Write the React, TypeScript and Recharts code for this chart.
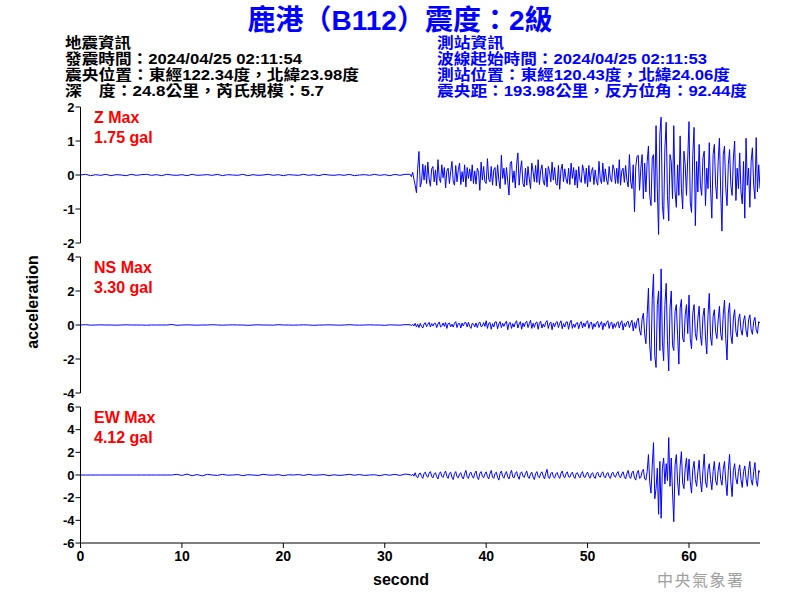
import { LineChart, Line, XAxis, YAxis } from 'recharts'

const QUIET_STEP = 0.5
const ACTIVE_START = 32.5
const ACTIVE_STEP = 0.125
const X_MAX = 67

// trace values, in 0.01 gal
// quiet part: t = 0 .. 32 s, every 0.5 s
const zQuiet = [
  0, 2, -2, 1, -1, 2, -2, 1, 0, -2, 2, -1, 1, 2, -1, 1, -2, 2, 0, -1,
  1, -2, 2, -1, 0, 1, -1, 2, -2, 1, 0, -1, 2, -2, 1, -1, 0, 2, -1, 1,
  -2, 1, 0, -1, 2, -1, 1, -2, 2, 0, -1, 1, -1, 2, -2, 0, 1, -1, 2, -1,
  1, -2, 2, -1, 2,
]
const nsQuiet = [
  0, 2, -1, 0, 1, 0, 0, -1, 0, 1, 0, 0, 0, -1, 0, 0, 0, 0, 3, -2,
  0, 1, 0, -1, 0, 0, 2, 0, -1, 0, 1, 0, 0, -2, 0, 1, 0, 0, -1, 2,
  0, 0, -1, 0, 1, 0, -2, 0, 0, 1, 0, -1, 0, 2, 0, -1, 0, 1, 0, 0,
  -2, 1, 0, -1, 2,
]
const ewQuiet = [
  0, 0, 0, 0, 0, 0, 0, 0, 0, 0, 0, 0, 0, 0, 0, 0, 0, 0, 0, 6,
  -4, 8, -6, 4, -8, 6, 0, -4, 6, -2, 0, 4, -6, 2, 0, -4, 6, 0, -2, 4,
  -6, 2, 0, 4, -4, 6, -2, 0, 4, -6, 2, -4, 0, 6, -2, 4, -4, 0, 2, -6,
  4, -2, 6, -4, 8,
]

// active part: t = 32.5 .. 67 s, every 0.125 s (one row per second)
const zActive = [
  2, -5, 8, -12,
  -30, -52, 20, 69, -35, -20, 32, -15, // 33
  28, -25, 38, -12, -33, 18, 25, -20,
  15, -30, 45, -10, -22, 30, -8, 22, // 35
  -38, 12, 20, -25, 10, 40, -18, -30,
  28, -20, 15, 35, -28, 10, -20, 30,
  -35, 22, -10, 18, -18, 30, -25, 12,
  -27, 20, 8, -45, 38, -15, 25, -20,
  -25, 48, -12, -20, 25, -30, 15, 22, // 40
  -32, 30, -15, -40, 58, -10, 20, -28,
  22, -18, -59, 35, 40, -22, 12, -38,
  30, 65, -30, 15, 42, -25, -35, 20,
  -30, 25, -12, -40, 35, 10, -20, 28,
  -22, 45, -28, 12, 30, -18, -30, 20, // 45
  -35, 25, 10, -20, 38, -15, 22, -25,
  -30, 28, -42, 15, 32, -20, 18, -12,
  -25, 20, -28, 35, -10, 22, -30, 15,
  -38, 25, -15, -22, 30, 12, -25, 20,
  -35, 28, -20, 10, 22, -28, 15, -18, // 50
  -30, 40, -12, -25, 35, -20, 18, -15,
  -28, 25, -10, -20, 30, 15, -25, 20,
  -25, 45, -30, 12, 20, -22, 28, -15,
  -35, 60, -20, -40, 30, -108, 25, 55,
  58, -45, 20, 60, -70, 35, -50, 40, // 55
  85, -60, -90, 50, 60, -80, 145, -40,
  -175, 120, 170, -90, -130, 80, 155, -60,
  -135, 60, 40, -70, 145, -50, -95, 30,
  -60, 115, -40, -100, 70, 30, -60, 50,
  157, -80, -110, 60, 140, -149, 40, -50, // 60
  90, -30, -60, 50, 70, -90, 20, -40,
  95, -40, -127, 60, 90, -30, -70, 40,
  108, -50, -165, 60, 85, -40, -90, 30,
  75, -30, -60, 50, 100, -75, 20, -40,
  65, -50, -85, 40, -127, 108, -30, 20, // 65
  -95, 40, 80, -30, -70, 110, -50, 30,
  -40,
]
const nsActive = [
  2, -4, 5, -6,
  10, -12, 5, -15, 10, -8, -18, 6, // 33
  14, -10, 4, 16, -12, 8, -6, 10,
  10, -15, 6, 18, -12, -5, 12, -8, // 35
  15, -20, 8, 12, -10, 5, -12, 10,
  20, -15, 8, 10, -18, 12, -6, 14,
  14, -12, 16, -8, -20, 10, 6, -12,
  12, -15, 8, 18, -10, -6, 14, -8,
  25, -20, 10, 15, -25, 8, -12, 18, // 40
  18, -22, 6, 20, -15, 10, -8, 12,
  22, -28, 10, 15, -20, 8, -12, 14,
  25, -18, 6, 20, -25, 12, -10, 15,
  22, -15, 8, 28, -20, 10, -14, 12,
  18, -25, 10, 22, -18, 6, -12, 16, // 45
  26, -20, 8, 18, -28, 12, -10, 14,
  20, -15, 10, 25, -22, 8, -12, 18,
  18, -25, 12, 28, -20, 6, -14, 10,
  15, -22, 8, 20, -18, 12, -10, 16,
  25, -20, 10, 18, -25, 8, -12, 14, // 50
  22, -15, 6, 20, -28, 12, -8, 16,
  25, -20, 10, 18, -22, 8, -14, 12,
  20, -18, 12, 25, -30, 10, -10, 16,
  22, -15, 10, 28, -35, 15, -20, 25,
  40, -30, -60, 35, 70, -50, -110, 60, // 55
  216, -120, -210, 150, 300, -180, -250, 120,
  200, -150, 330, -100, -210, 120, 245, -90,
  -270, 100, 200, -120, -150, 80, 120, -60,
  -230, 100, 150, -80, -100, 60, 120, -50,
  176, -80, -140, 70, 120, -50, -90, 40, // 60
  110, -60, -120, 50, 100, -70, -170, 60,
  186, -70, -120, 50, 90, -40, -80, 30,
  110, -50, -90, 60, 147, -80, -206, 70,
  130, -60, -110, 40, 90, -40, -70, 30,
  65, -30, -60, 25, 55, -35, -70, 30, // 65
  60, -25, -55, 20, 45, -30, -50, 20,
  10,
]
const ewActive = [
  3, -6, 8, -10,
  20, -15, -25, 10, 18, -12, -30, 15, // 33
  25, -10, -20, 15, 30, -12, -25, 10,
  20, -15, -35, 12, 28, -10, -22, 14, // 35
  35, -12, -30, 15, 25, -20, -40, 12,
  30, -15, -25, 10, 20, -18, -35, 12,
  40, -15, -30, 12, 25, -10, -28, 14,
  35, -20, -40, 15, 30, -12, -25, 10,
  28, -15, -35, 12, 40, -18, -30, 14, // 40
  25, -20, -45, 15, 35, -12, -28, 10,
  30, -15, -35, 12, 42, -18, -25, 14,
  30, -12, -38, 15, 28, -10, -22, 12,
  35, -15, -30, 10, 25, -18, -40, 12,
  30, -12, -25, 14, 28, -10, -35, 15, // 45
  50, -20, -30, 12, 25, -15, -28, 10,
  22, -12, -30, 15, 35, -10, -25, 12,
  28, -15, -20, 10, 25, -12, -30, 14,
  20, -10, -25, 12, 30, -15, -22, 10,
  25, -12, -28, 10, 20, -15, -30, 12, // 50
  25, -10, -20, 14, 28, -12, -25, 10,
  22, -15, -30, 12, 25, -10, -20, 14,
  30, -12, -25, 10, 28, -15, -35, 12,
  40, -15, -30, 20, 35, -25, -45, 18,
  40, -30, -20, 30, 50, -35, -45, 30, // 55
  180, -60, -160, 80, 285, -210, -120, 60,
  -347, 120, -382, 60, 150, -80, 100, -50,
  330, -100, 150, -150, -412, 90, 180, -60,
  -180, 80, 206, -70, -120, 60, 150, -50,
  140, -60, -160, 50, 120, -40, -100, 30, // 60
  130, -50, -150, 40, 185, -60, -110, 50,
  100, -40, -130, 30, 120, -50, -90, 40,
  110, -40, -90, 50, 120, -60, -182, 40,
  182, -60, -190, 40, 100, -30, -80, 30,
  90, -40, -110, 30, 80, -30, -100, 40, // 65
  120, -40, -90, 30, 110, -50, -100, 40,
  20,
]

const xTicks = [0, 10, 20, 30, 40, 50, 60]
const zTicks = [-2, -1, 0, 1, 2]
const nsTicks = [-4, -2, 0, 2, 4]
const ewTicks = [-6, -4, -2, 0, 2, 4, 6]

const quakeInfo = [
  '地震資訊',
  '發震時間：2024/04/25 02:11:54',
  '震央位置：東經122.34度，北緯23.98度',
  '深　度：24.8公里，芮氏規模：5.7',
]
const stationInfo = [
  '測站資訊',
  '波線起始時間：2024/04/25 02:11:53',
  '測站位置：東經120.43度，北緯24.06度',
  '震央距：193.98公里，反方位角：92.44度',
]
// line widths as they stand in the reference
const quakeWidths = [66, 237, 294, 259]
const stationWidths = [67, 270, 293, 310]

const FONT = "'Liberation Sans', Arial, 'Noto Sans CJK TC', sans-serif"
const BLUE = '#0000ff'

function toSeries(quiet: number[], active: number[]) {
  return [
    ...quiet.map((v, i) => ({ t: i * QUIET_STEP, v: v / 100 })),
    ...active.map((v, i) => ({ t: ACTIVE_START + i * ACTIVE_STEP, v: v / 100 })),
  ]
}

const zData = toSeries(zQuiet, zActive)
const nsData = toSeries(nsQuiet, nsActive)
const ewData = toSeries(ewQuiet, ewActive)

const tickStyle = { fill: '#000', fontSize: 13, fontWeight: 'bold', fontFamily: FONT }

interface PanelProps {
  data: { t: number; v: number }[]
  ticks: number[]
  top: number
  showX?: boolean
}

function Panel({ data, ticks, top, showX = false }: PanelProps) {
  const height = showX ? 180 : 150
  return (
    <div style={{ position: 'absolute', left: 0, top, width: 800, height }}>
      <LineChart
        width={800}
        height={height}
        data={data}
        margin={{ top: 7, right: 40, bottom: 7, left: 40.5 }}
      >
        <XAxis
          dataKey="t"
          type="number"
          domain={[0, X_MAX]}
          ticks={xTicks}
          interval={0}
          hide={!showX}
          height={30}
          tick={{ ...tickStyle, fontSize: 14 }}
          tickSize={5}
          tickMargin={3}
          axisLine={{ stroke: '#000' }}
          tickLine={{ stroke: '#000' }}
          allowDataOverflow
        />
        <YAxis
          type="number"
          domain={[ticks[0], ticks[ticks.length - 1]]}
          ticks={ticks}
          interval={0}
          width={40}
          tick={tickStyle}
          tickSize={5}
          tickMargin={1}
          axisLine={{ stroke: '#000' }}
          tickLine={{ stroke: '#000' }}
          allowDataOverflow
        />
        <Line
          type="linear"
          dataKey="v"
          stroke={BLUE}
          strokeWidth={1}
          dot={false}
          activeDot={false}
          isAnimationActive={false}
        />
      </LineChart>
    </div>
  )
}

const redLabel = { fontFamily: FONT, fontSize: 16, fontWeight: 'bold' as const, fill: '#ff0000' }

function InfoBlock({ x, lines, widths, color }: { x: number; lines: string[]; widths: number[]; color: string }) {
  return (
    <g fill={color} fontFamily={FONT} fontSize={14.5} fontWeight="bold">
      {lines.map((s, i) => (
        <text key={i} x={x} y={48 + i * 16} textLength={widths[i]} lengthAdjust="spacingAndGlyphs">
          {s}
        </text>
      ))}
    </g>
  )
}

export default function App() {
  return (
    <div
      style={{
        position: 'absolute',
        left: 0,
        top: 0,
        width: 800,
        height: 600,
        background: '#fff',
        fontFamily: FONT,
      }}
    >
      <Panel data={zData} ticks={zTicks} top={100} />
      <Panel data={nsData} ticks={nsTicks} top={250} />
      <Panel data={ewData} ticks={ewTicks} top={400} showX />

      <svg
        width={800}
        height={600}
        style={{ position: 'absolute', left: 0, top: 0, pointerEvents: 'none' }}
      >
        <text x={400} y={30} textAnchor="middle" fill={BLUE} fontFamily={FONT} fontSize={28} fontWeight="bold">
          鹿港（B112）震度：2級
        </text>

        <InfoBlock x={65} lines={quakeInfo} widths={quakeWidths} color="#000" />
        <InfoBlock x={437} lines={stationInfo} widths={stationWidths} color={BLUE} />

        <text x={94} y={123} style={redLabel}>Z Max</text>
        <text x={94} y={143} style={redLabel}>1.75 gal</text>
        <text x={94} y={273} style={redLabel}>NS Max</text>
        <text x={94} y={293} style={redLabel}>3.30 gal</text>
        <text x={94} y={423} style={redLabel}>EW Max</text>
        <text x={94} y={443} style={redLabel}>4.12 gal</text>

        <text
          x={0}
          y={0}
          transform="translate(38 302) rotate(-90)"
          textAnchor="middle"
          fontFamily={FONT}
          fontSize={16}
          fontWeight="bold"
          fill="#000"
        >
          acceleration
        </text>
        <text x={401} y={585} textAnchor="middle" fontFamily={FONT} fontSize={16} fontWeight="bold" fill="#000">
          second
        </text>
        <text x={657} y={586} fontFamily="'Noto Sans CJK TC', sans-serif" fontSize={16} letterSpacing={1.5} fill="#a0a0a0">
          中央氣象署
        </text>
      </svg>
    </div>
  )
}
